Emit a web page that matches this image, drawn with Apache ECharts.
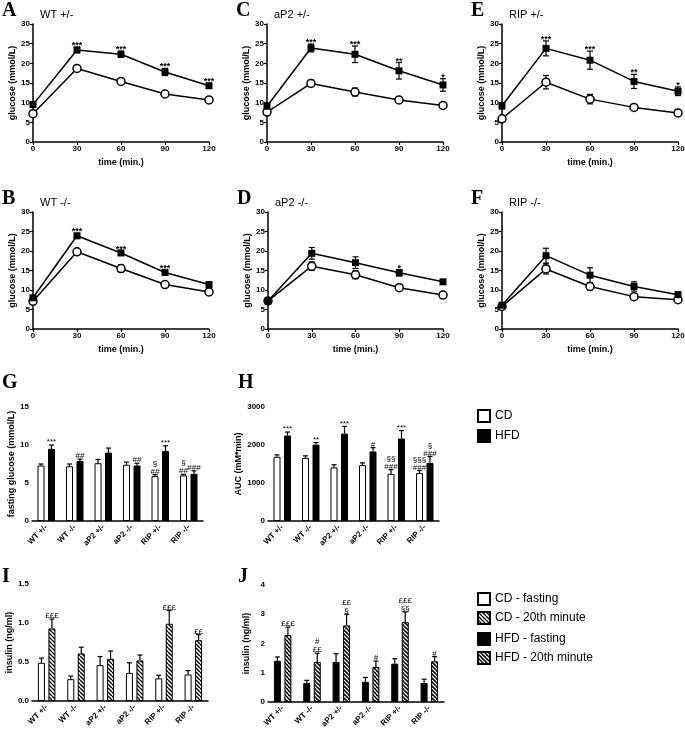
<!DOCTYPE html>
<html>
<head>
<meta charset="utf-8">
<script src="https://cdn.jsdelivr.net/npm/echarts@6/dist/echarts.min.js"></script>
<style>
  html, body { margin: 0; padding: 0; background: #fff; }
  #chart { width: 685px; height: 733px; }
</style>
</head>
<body>
<div id="chart"></div>
<script>
var times = [0, 30, 60, 90, 120];
var cats = ['WT +/-', 'WT -/-', 'aP2 +/-', 'aP2 -/-', 'RIP +/-', 'RIP -/-'];

// A  WT +/-
var hfdA = [9.5, 23.4, 22.3, 17.8, 14.3];
var hfdErrA = [0.6, 0.7, 0.8, 0.9, 0.6];
var cdA = [7.2, 18.7, 15.4, 12.2, 10.7];
var cdErrA = [0.4, 0.7, 0.3, 0.3, 0.3];
var starsA = ['', '***', '***', '***', '***'];
// B  WT -/-
var hfdB = [8.0, 23.9, 19.5, 14.5, 11.4];
var hfdErrB = [0.3, 0.6, 0.6, 0.5, 0.3];
var cdB = [7.1, 19.8, 15.5, 11.4, 9.5];
var cdErrB = [0.3, 0.6, 0.9, 0.3, 0.3];
var starsB = ['', '***', '***', '***', ''];
// C  aP2 +/-
var hfdC = [9.1, 23.9, 22.3, 18.1, 14.5];
var hfdErrC = [0.8, 1.0, 2.1, 2.1, 1.6];
var cdC = [7.6, 14.9, 12.7, 10.7, 9.3];
var cdErrC = [0.4, 0.8, 1.0, 0.6, 0.3];
var starsC = ['', '***', '***', '**', '*'];
// D  aP2 -/-
var hfdD = [7.2, 19.4, 17.0, 14.4, 12.1];
var hfdErrD = [0.4, 1.5, 1.5, 0.8, 0.4];
var cdD = [7.2, 16.1, 13.9, 10.6, 8.7];
var cdErrD = [0.3, 1.1, 1.0, 0.4, 0.3];
var starsD = ['', '', '', '*', ''];
// E  RIP +/-
var hfdE = [9.2, 23.8, 20.8, 15.4, 12.9];
var hfdErrE = [0.8, 1.9, 2.3, 1.8, 1.1];
var cdE = [5.9, 15.2, 10.9, 8.8, 7.4];
var cdErrE = [0.3, 1.7, 1.2, 0.6, 0.2];
var starsE = ['', '***', '***', '**', '*'];
// F  RIP -/-
var hfdF = [6.1, 18.8, 13.8, 10.9, 8.8];
var hfdErrF = [0.4, 1.9, 1.9, 1.2, 0.7];
var cdF = [5.8, 15.4, 10.9, 8.3, 7.5];
var cdErrF = [0.3, 1.3, 0.9, 0.3, 0.3];
var starsF = ['', '', '', '', ''];

// G fasting glucose
var cdG = [7.3, 7.2, 7.6, 7.4, 5.9, 6.0];
var cdErrG = [0.2, 0.3, 0.5, 0.35, 0.2, 0.15];
var hfdG = [9.5, 7.9, 9.0, 7.3, 9.2, 6.2];
var hfdErrG = [0.5, 0.25, 0.6, 0.3, 0.7, 0.4];
var cdSigG = ['', '', '', '', '§\n##', '§\n##'];
var hfdSigG = ['***', '##', '', '##', '***', '###'];
// H AUC
var cdH = [1690, 1660, 1410, 1470, 1240, 1260];
var cdErrH = [50, 55, 70, 60, 110, 70];
var hfdH = [2250, 2010, 2300, 1830, 2170, 1530];
var hfdErrH = [90, 55, 190, 100, 210, 170];
var cdSigH = ['', '', '', '', '§§\n###', '§§§\n###'];
var hfdSigH = ['***', '**', '***', '#', '***', '§\n###'];
// I insulin CD
var cdFastI = [0.49, 0.28, 0.46, 0.36, 0.29, 0.34];
var cdFastErrI = [0.06, 0.04, 0.11, 0.13, 0.04, 0.05];
var cd20I = [0.93, 0.61, 0.54, 0.52, 0.99, 0.78];
var cd20ErrI = [0.12, 0.08, 0.10, 0.07, 0.17, 0.07];
var cdSigI = ['', '', '', '', '', ''];
var cd20SigI = ['£££', '', '', '', '£££', '££'];
// J insulin HFD
var hfdFastJ = [1.41, 0.65, 1.37, 0.69, 1.31, 0.65];
var hfdFastErrJ = [0.13, 0.09, 0.28, 0.15, 0.17, 0.13];
var hfd20J = [2.29, 1.37, 2.62, 1.20, 2.73, 1.39];
var hfd20ErrJ = [0.27, 0.30, 0.38, 0.20, 0.35, 0.16];
var hfdSigJ = ['', '', '', '', '', ''];
var hfd20SigJ = ['£££', '#\n££', '££\n§', '#', '£££\n§§', '#'];

var FONT = 'Liberation Sans, Arial, sans-serif';
var chart = echarts.init(document.getElementById('chart'));

function hatch(bg, fg) {
  var c = document.createElement('canvas');
  c.width = 4; c.height = 4;
  var g = c.getContext('2d');
  g.fillStyle = bg; g.fillRect(0, 0, 4, 4);
  g.strokeStyle = fg; g.lineWidth = 1.3;
  g.beginPath();
  for (var k = -1; k <= 1; k++) { g.moveTo(k * 4, 0); g.lineTo(k * 4 + 4, 4); }
  g.stroke();
  return { image: c, repeat: 'repeat' };
}

var linePanels = [
  { letter: 'A', title: 'WT +/-', grid: { left: 33, top: 24, width: 176, height: 118 }, hfd: hfdA, hfdErr: hfdErrA, cd: cdA, cdErr: cdErrA, stars: starsA, xName: true },
  { letter: 'C', title: 'aP2 +/-', grid: { left: 267, top: 24, width: 176, height: 118 }, hfd: hfdC, hfdErr: hfdErrC, cd: cdC, cdErr: cdErrC, stars: starsC, xName: false },
  { letter: 'E', title: 'RIP +/-', grid: { left: 502, top: 24, width: 176, height: 118 }, hfd: hfdE, hfdErr: hfdErrE, cd: cdE, cdErr: cdErrE, stars: starsE, xName: true },
  { letter: 'B', title: 'WT -/-', grid: { left: 33, top: 212, width: 176, height: 117 }, hfd: hfdB, hfdErr: hfdErrB, cd: cdB, cdErr: cdErrB, stars: starsB, xName: true },
  { letter: 'D', title: 'aP2 -/-', grid: { left: 268, top: 212, width: 175, height: 117 }, hfd: hfdD, hfdErr: hfdErrD, cd: cdD, cdErr: cdErrD, stars: starsD, xName: true },
  { letter: 'F', title: 'RIP -/-', grid: { left: 502, top: 212, width: 176, height: 117 }, hfd: hfdF, hfdErr: hfdErrF, cd: cdF, cdErr: cdErrF, stars: starsF, xName: true }
];

var barPanels = [
  { letter: 'G', letterTop: 373, grid: { left: 32, top: 407, width: 171, height: 114 }, min: 0, max: 15, interval: 5, yName: 'fasting glucose (mmol/L)', nameGap: 14, dec: 0,
    series: [
      { name: 'CD', vals: cdG, errs: cdErrG, sigs: cdSigG, color: '#fff' },
      { name: 'HFD', vals: hfdG, errs: hfdErrG, sigs: hfdSigG, color: '#000' }] },
  { letter: 'H', letterTop: 373, grid: { left: 268, top: 407, width: 171, height: 114 }, min: 0, max: 3000, interval: 1000, yName: 'AUC (mM*min)', nameGap: 22, dec: 0,
    series: [
      { name: 'CD', vals: cdH, errs: cdErrH, sigs: cdSigH, color: '#fff' },
      { name: 'HFD', vals: hfdH, errs: hfdErrH, sigs: hfdSigH, color: '#000' }] },
  { letter: 'I', letterTop: 567, grid: { left: 32, top: 584, width: 176, height: 117 }, min: 0, max: 1.5, interval: 0.5, yName: 'insulin (ng/ml)', nameGap: 15, dec: 1,
    series: [
      { name: 'CD - fasting', vals: cdFastI, errs: cdFastErrI, sigs: cdSigI, color: '#fff' },
      { name: 'CD - 20th minute', vals: cd20I, errs: cd20ErrI, sigs: cd20SigI, color: hatch('#fff', '#000') }] },
  { letter: 'J', letterTop: 567, grid: { left: 268, top: 585, width: 176, height: 117 }, min: 0, max: 4, interval: 1, yName: 'insulin (ng/ml)', nameGap: 17, dec: 0,
    series: [
      { name: 'HFD - fasting', vals: hfdFastJ, errs: hfdFastErrJ, sigs: hfdSigJ, color: '#000' },
      { name: 'HFD - 20th minute', vals: hfd20J, errs: hfd20ErrJ, sigs: hfd20SigJ, color: hatch('#000', '#fff') }] }
];

var BAR_W = 7, BAR_GAP = 0.5;
var barOff = (BAR_W + BAR_W * BAR_GAP) / 2;

var axisLine = { lineStyle: { color: '#000', width: 1.5 } };
var tickStyle = { color: '#000', width: 1.2 };
var labelStyle = { color: '#000', fontSize: 8, fontWeight: 'bold', fontFamily: FONT };
var nameStyle = { color: '#000', fontSize: 9, fontWeight: 'bold', fontFamily: FONT };

var grids = [], xAxes = [], yAxes = [], series = [], titles = [];

function lineErr(vals, errs, stars) {
  return function (params, api) {
    var i = params.dataIndex;
    var t = api.coord([times[i], vals[i] + errs[i]]);
    var b = api.coord([times[i], vals[i] - errs[i]]);
    var st = { stroke: '#000', lineWidth: 1.2 };
    var kids = [
      { type: 'line', shape: { x1: t[0], y1: t[1], x2: b[0], y2: b[1] }, style: st },
      { type: 'line', shape: { x1: t[0] - 3, y1: t[1], x2: t[0] + 3, y2: t[1] }, style: st },
      { type: 'line', shape: { x1: b[0] - 3, y1: b[1], x2: b[0] + 3, y2: b[1] }, style: st }
    ];
    if (stars && stars[i]) {
      kids.push({ type: 'text', x: t[0], y: t[1] + 3, style: { text: stars[i], align: 'center', verticalAlign: 'bottom', font: 'bold 9px ' + FONT, fill: '#000' } });
    }
    return { type: 'group', children: kids };
  };
}

function barErr(vals, errs, sigs, side) {
  return function (params, api) {
    var i = params.dataIndex;
    var b = api.coord([i, vals[i]]);
    var t = api.coord([i, vals[i] + errs[i]]);
    var x = b[0] + side * barOff;
    var st = { stroke: '#000', lineWidth: 1.2 };
    var kids = [
      { type: 'line', shape: { x1: x, y1: b[1], x2: x, y2: t[1] }, style: st },
      { type: 'line', shape: { x1: x - 2.5, y1: t[1], x2: x + 2.5, y2: t[1] }, style: st }
    ];
    if (sigs[i]) {
      kids.push({ type: 'text', x: x, y: t[1] + 1, style: { text: sigs[i], align: 'center', verticalAlign: 'bottom', lineHeight: 8, font: '8px ' + FONT, fill: '#000' } });
    }
    return { type: 'group', children: kids };
  };
}

function titleAt(text, left, top, serif) {
  titles.push({
    text: text, left: left, top: top, padding: 0,
    textStyle: serif
      ? { fontFamily: 'Liberation Serif, Times New Roman, serif', fontWeight: 'bold', fontSize: 20, color: '#000' }
      : { fontFamily: FONT, fontWeight: 'normal', fontSize: 11, color: '#000' }
  });
}

linePanels.forEach(function (p, gi) {
  var g = Object.assign({ outerBoundsMode: 'none', containLabel: false }, p.grid);
  grids.push(g);
  titleAt(p.letter, p.grid.left - 31, p.grid.top - 23, true);
  titleAt(p.title, p.grid.left + 7, p.grid.top - 15, false);
  xAxes.push({
    type: 'value', gridIndex: gi, min: 0, max: 120, interval: 30,
    axisLine: axisLine, axisTick: { length: 3, lineStyle: tickStyle },
    axisLabel: Object.assign({ margin: 3 }, labelStyle), splitLine: { show: false },
    name: p.xName ? 'time (min.)' : '', nameLocation: 'middle', nameGap: 16, nameTextStyle: nameStyle
  });
  yAxes.push({
    type: 'value', gridIndex: gi, min: 0, max: 30, interval: 5,
    axisLine: Object.assign({ onZero: false }, axisLine), axisTick: { length: 3, lineStyle: tickStyle },
    axisLabel: Object.assign({ margin: 3 }, labelStyle), splitLine: { show: false },
    name: 'glucose (mmol/L)', nameLocation: 'middle', nameGap: 15, nameTextStyle: nameStyle
  });
  [{ v: p.cd, e: p.cdErr, s: null }, { v: p.hfd, e: p.hfdErr, s: p.stars }].forEach(function (d) {
    series.push({
      type: 'custom', xAxisIndex: gi, yAxisIndex: gi, silent: true, z: 1,
      data: times.map(function (t, i) { return [t, d.v[i]]; }),
      renderItem: lineErr(d.v, d.e, d.s)
    });
  });
  series.push({
    name: 'CD line ' + p.letter, type: 'line', xAxisIndex: gi, yAxisIndex: gi, z: 2,
    data: times.map(function (t, i) { return [t, p.cd[i]]; }),
    symbol: 'circle', symbolSize: 8,
    itemStyle: { color: '#fff', borderColor: '#000', borderWidth: 1.5 },
    lineStyle: { color: '#000', width: 1.5 }
  });
  series.push({
    name: 'HFD line ' + p.letter, type: 'line', xAxisIndex: gi, yAxisIndex: gi, z: 2,
    data: times.map(function (t, i) { return [t, p.hfd[i]]; }),
    symbol: 'rect', symbolSize: 7,
    itemStyle: { color: '#000' },
    lineStyle: { color: '#000', width: 1.5 }
  });
});

barPanels.forEach(function (p, k) {
  var gi = linePanels.length + k;
  grids.push(Object.assign({ outerBoundsMode: 'none', containLabel: false }, p.grid));
  titleAt(p.letter, p.grid.left - 30, p.letterTop, true);
  xAxes.push({
    type: 'category', gridIndex: gi, data: cats,
    axisLine: axisLine, axisTick: { alignWithLabel: true, length: 4, lineStyle: tickStyle },
    axisLabel: Object.assign({ rotate: 45, interval: 0, margin: 5 }, labelStyle)
  });
  yAxes.push({
    type: 'value', gridIndex: gi, min: p.min, max: p.max, interval: p.interval,
    axisLine: axisLine, axisTick: { length: 3, lineStyle: tickStyle },
    axisLabel: Object.assign({ margin: 3, formatter: function (v) { return v.toFixed(p.dec); } }, labelStyle),
    splitLine: { show: false },
    name: p.yName, nameLocation: 'middle', nameGap: p.nameGap, nameTextStyle: nameStyle
  });
  p.series.forEach(function (s) {
    series.push({
      name: s.name, type: 'bar', xAxisIndex: gi, yAxisIndex: gi,
      data: s.vals, barWidth: BAR_W, barGap: (BAR_GAP * 100) + '%',
      itemStyle: { color: s.color, borderColor: '#000', borderWidth: 1 }
    });
  });
  p.series.forEach(function (s, si) {
    series.push({
      type: 'custom', xAxisIndex: gi, yAxisIndex: gi, silent: true, z: 3,
      data: s.vals.map(function (v, i) { return [i, v]; }),
      renderItem: barErr(s.vals, s.errs, s.sigs, si === 0 ? -1 : 1)
    });
  });
});

var legendText = { color: '#000', fontSize: 12, fontFamily: FONT };
var option = {
  animation: false,
  backgroundColor: '#fff',
  title: titles,
  grid: grids,
  xAxis: xAxes,
  yAxis: yAxes,
  legend: [
    { data: ['CD', 'HFD'], icon: 'rect', orient: 'vertical', left: 472, top: 404, itemWidth: 12, itemHeight: 12, itemGap: 6, textStyle: legendText, selectedMode: false },
    { data: ['CD - fasting', 'CD - 20th minute'], icon: 'rect', orient: 'vertical', left: 472, top: 587, itemWidth: 12, itemHeight: 12, itemGap: 5, textStyle: legendText, selectedMode: false },
    { data: ['HFD - fasting', 'HFD - 20th minute'], icon: 'rect', orient: 'vertical', left: 472, top: 627, itemWidth: 12, itemHeight: 12, itemGap: 5, textStyle: legendText, selectedMode: false }
  ],
  series: series
};

chart.setOption(option);
</script>
</body>
</html>
